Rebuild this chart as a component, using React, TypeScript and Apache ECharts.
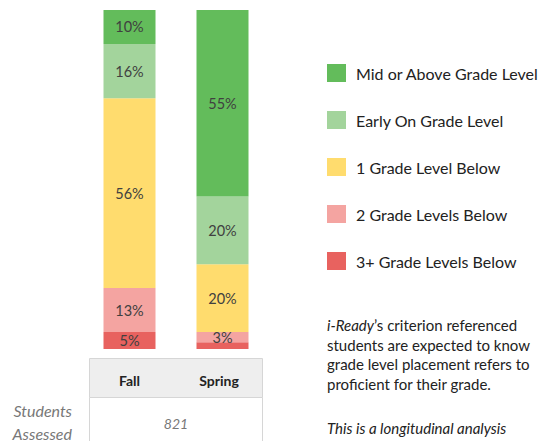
import React, { useEffect, useRef } from "react";
import * as echarts from "echarts";

const terms = ["Fall", "Spring"];
const levels = [
  "3+ Grade Levels Below",
  "2 Grade Levels Below",
  "1 Grade Level Below",
  "Early On Grade Level",
  "Mid or Above Grade Level",
];
const levelColors = ["#e8625f", "#f4a4a1", "#ffdc6e", "#a3d49c", "#63bc5b"];
// values per level: [Fall, Spring]
const values3Plus = [5, 2];
const values2Below = [13, 3];
const values1Below = [56, 20];
const valuesEarlyOn = [16, 20];
const valuesMidAbove = [10, 55];
const studentsAssessed = "821";

const seriesValues = [values3Plus, values2Below, values1Below, valuesEarlyOn, valuesMidAbove];

export default function App() {
  const ref = useRef<HTMLDivElement>(null);
  useEffect(() => {
    if (!ref.current) return;
    const chart = echarts.init(ref.current, undefined, { renderer: "svg" });
    const font = "Lato, 'Open Sans', sans-serif";
    const para = (text: string, y: number, italic = false) => ({
      type: "text",
      x: 327,
      y,
      style: {
        text,
        fontSize: 15,
        fontStyle: italic ? "italic" : "normal",
        fill: "#222",
        fontFamily: font,
        verticalAlign: "middle",
      },
    });
    chart.setOption({
      animation: false,
      textStyle: { fontFamily: font },
      grid: { left: 83, top: 10, width: 186, height: 339, containLabel: false },
      xAxis: {
        type: "category",
        data: terms.map((t, i) =>
          i === 1 ? { value: t, textStyle: { padding: [0, 7, 0, 0] } } : t
        ),
        z: 5,
        axisLine: { show: false },
        axisTick: { show: false },
        axisLabel: {
          margin: 24,
          fontSize: 14,
          fontWeight: "bold",
          color: "#222",
          fontFamily: font,
        },
      },
      yAxis: {
        type: "value",
        min: 0,
        max: 100,
        show: false,
      },
      legend: {
        orient: "vertical",
        left: 327,
        top: 64,
        padding: 0,
        itemWidth: 19,
        itemHeight: 18,
        itemGap: 29,
        icon: "rect",
        data: levels.slice().reverse(),
        textStyle: { fontSize: 16, color: "#222", fontFamily: font, padding: [0, 0, 0, 5] },
        selectedMode: false,
      },
      series: levels.map((name, i) => ({
        name,
        type: "bar",
        stack: "total",
        barWidth: 52,
        data: seriesValues[i],
        itemStyle: { color: levelColors[i] },
        label: {
          show: true,
          position: "inside",
          fontSize: 14.5,
          color: "#404040",
          fontFamily: font,
          formatter: (p: any) => (p.value >= 3 ? `${p.value}%` : ""),
        },
      })),
      graphic: [
        {
          type: "rect",
          z: 0,
          shape: { x: 89.5, y: 358.5, width: 173, height: 39 },
          style: { fill: "#eeeeee", stroke: "#d6d6d6", lineWidth: 1 },
        },
        {
          type: "line",
          shape: { x1: 89.5, y1: 397.5, x2: 89.5, y2: 441 },
          style: { stroke: "#d6d6d6", lineWidth: 1 },
        },
        {
          type: "line",
          shape: { x1: 262.5, y1: 397.5, x2: 262.5, y2: 441 },
          style: { stroke: "#d6d6d6", lineWidth: 1 },
        },
        {
          type: "text",
          x: 176,
          y: 423,
          style: {
            text: studentsAssessed,
            fontSize: 14,
            fontStyle: "italic",
            fill: "#777",
            fontFamily: font,
            align: "center",
            verticalAlign: "middle",
          },
        },
        {
          type: "text",
          x: 72,
          y: 410,
          style: {
            text: "Students",
            fontSize: 16,
            fontStyle: "italic",
            fill: "#777",
            fontFamily: font,
            align: "right",
            verticalAlign: "middle",
          },
        },
        {
          type: "text",
          x: 72,
          y: 433,
          style: {
            text: "Assessed",
            fontSize: 16,
            fontStyle: "italic",
            fill: "#777",
            fontFamily: font,
            align: "right",
            verticalAlign: "middle",
          },
        },
        {
          type: "text",
          x: 327,
          y: 325,
          style: {
            text: "{i|i-Ready}’s criterion referenced",
            fontSize: 15,
            fill: "#222",
            fontFamily: font,
            verticalAlign: "middle",
            rich: { i: { fontStyle: "italic", fontSize: 15, fill: "#222", fontFamily: font } },
          },
        },
        para("students are expected to know", 345),
        para("grade level placement refers to", 364),
        para("proficient for their grade.", 384),
        para("This is a longitudinal analysis", 428, true),
      ],
    });
    return () => chart.dispose();
  }, []);
  return (
    <div
      ref={ref}
      style={{ position: "fixed", left: 0, top: 0, width: 539, height: 441, background: "#fff" }}
    />
  );
}
